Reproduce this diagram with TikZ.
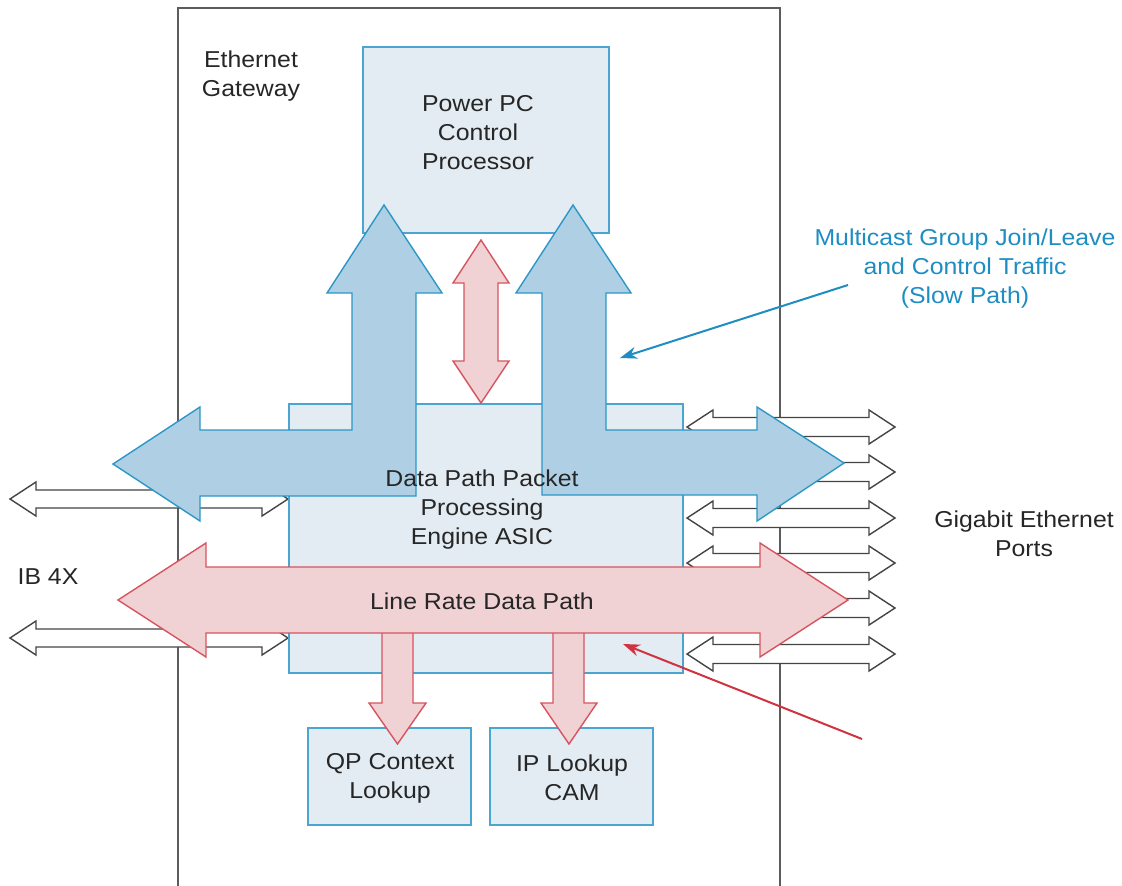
\documentclass[tikz,border=0pt]{standalone}
\usepackage{fontspec}
\setmainfont{Liberation Sans}[FakeStretch=1.08]
\usetikzlibrary{arrows.meta}

\definecolor{boxfill}{HTML}{E3ECF2}
\definecolor{boxline}{HTML}{4AA6D0}
\definecolor{bluefill}{HTML}{AFD0E4}
\definecolor{blueline}{HTML}{2C97C6}
\definecolor{redfill}{HTML}{F0D1D4}
\definecolor{redline}{HTML}{D6545F}
\definecolor{portline}{HTML}{444444}
\definecolor{framecol}{HTML}{5C5C5C}
\definecolor{textcol}{HTML}{262626}
\definecolor{bluetext}{HTML}{1E8DC2}
\definecolor{redptr}{HTML}{D0323F}

\tikzset{
  box/.style={draw=boxline, fill=boxfill, line width=1.4pt},
  bluearrow/.style={draw=blueline, fill=bluefill, line width=1.4pt, line join=miter},
  redarrow/.style={draw=redline, fill=redfill, line width=1.4pt, line join=miter},
  portarrow/.style={draw=portline, fill=white, line width=1.4pt, line join=miter},
  lbl/.style={text=textcol, align=center, inner sep=0pt,
    font=\fontsize{23}{29}\selectfont},
  bluelbl/.style={lbl, text=bluetext},
  pointer/.style={line width=2pt, -{Stealth[length=17pt,width=12pt]}},
}

% horizontal double arrow: style, left tip x, right tip x, centre y,
% shaft half width, head half width, head length
\newcommand{\hdbl}[7]{%
  \draw[#1] (#2,#4) -- (#2+#7,#4-#6) -- (#2+#7,#4-#5) -- (#3-#7,#4-#5)
    -- (#3-#7,#4-#6) -- (#3,#4) -- (#3-#7,#4+#6) -- (#3-#7,#4+#5)
    -- (#2+#7,#4+#5) -- (#2+#7,#4+#6) -- cycle;}

\begin{document}
\begin{tikzpicture}[x=1pt,y=-1pt]
\useasboundingbox (0,0) rectangle (1122,886);

% gateway enclosure
\draw[framecol, line width=1.3pt] (178,886) -- (178,8) -- (780,8) -- (780,886);

% IB 4X links
\hdbl{portarrow}{10}{288}{499}{9}{17}{26}
\hdbl{portarrow}{10}{288}{638}{9}{17}{26}

% Gigabit Ethernet links
\foreach \py in {427,472,518,563,608,654}
  {\hdbl{portarrow}{687}{895}{\py}{9.5}{17}{26}}

% functional blocks
\node[box, minimum width=246pt, minimum height=186pt] (ppc) at (486,140) {};
\node[box, minimum width=394pt, minimum height=269pt] (asic) at (486,538.5) {};
\node[box, minimum width=163pt, minimum height=97pt] (qp) at (389.5,776.5) {};
\node[box, minimum width=163pt, minimum height=97pt] (cam) at (571.5,776.5) {};

% lookups from the data path
\draw[redarrow] (382,625) -- (382,703) -- (369,703) -- (397.5,744) -- (426,703)
  -- (413,703) -- (413,625) -- cycle;
\draw[redarrow] (553,625) -- (553,703) -- (541,703) -- (569,744) -- (597,703)
  -- (584,703) -- (584,625) -- cycle;

% line rate data path
\hdbl{redarrow}{118}{848}{600}{33}{57}{88}

% slow path to the control processor
\draw[bluearrow] (384,205) -- (442,293) -- (416,293) -- (416,496) -- (200,496)
  -- (200,521) -- (113,464) -- (200,407) -- (200,430) -- (352,430) -- (352,293)
  -- (327,293) -- cycle;
\draw[bluearrow] (573,205) -- (631,293) -- (606,293) -- (606,430) -- (757,430)
  -- (757,407) -- (844,463) -- (757,521) -- (757,495) -- (542,495) -- (542,293)
  -- (516,293) -- cycle;

% processor to ASIC link
\draw[redarrow] (481,240) -- (509,283) -- (498,283) -- (498,361) -- (509,361)
  -- (481,403) -- (453,361) -- (464,361) -- (464,283) -- (453,283) -- cycle;

% texts
\node[lbl] (gw) at (251,76) {Ethernet\\Gateway};
\node[lbl] (ppctext) at (478,133) {Power PC\\Control\\Processor};
\node[lbl] (asictext) at (482,510) {Data Path Packet\\Processing\\Engine ASIC};
\node[lbl] (qptext) at (390,778) {QP Context\\Lookup};
\node[lbl] (camtext) at (572,778) {IP Lookup\\CAM};
\node[lbl] (lrdp) at (482,601) {Line Rate Data Path};
\node[lbl] (ib) at (48,577) {IB 4X};
\node[lbl] (gige) at (1024,534) {Gigabit Ethernet\\Ports};
\node[bluelbl] (mcast) at (965,269) {Multicast Group Join/Leave\\and Control Traffic\\(Slow Path)};

% callouts
\coordinate (bsrc) at (848,285);
\coordinate (btip) at (620,358);
\coordinate (rsrc) at (862,739);
\coordinate (rtip) at (623,644);
\draw[pointer, bluetext] (bsrc) -- (btip);
\draw[pointer, redptr] (rsrc) -- (rtip);
\end{tikzpicture}
\end{document}
